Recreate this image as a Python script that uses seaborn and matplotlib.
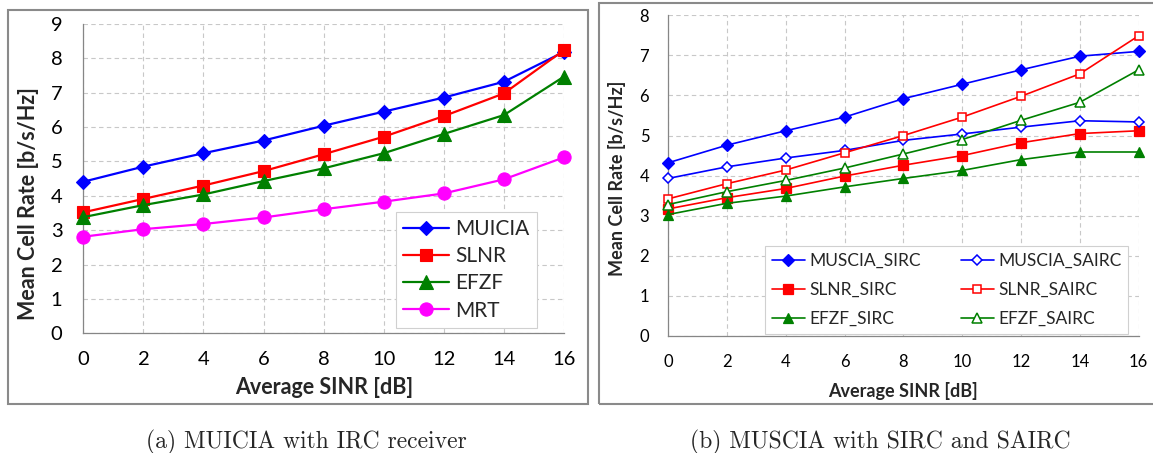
import numpy as np
import pandas as pd
import seaborn as sns
import matplotlib
matplotlib.use("Agg")
import matplotlib.pyplot as plt
from matplotlib.patches import Rectangle

# ---------------- data ----------------
sinr = [0, 2, 4, 6, 8, 10, 12, 14, 16]

# (a) MUICIA with IRC receiver
a_muicia = [4.41, 4.85, 5.24, 5.61, 6.04, 6.45, 6.86, 7.32, 8.19]
a_slnr = [3.52, 3.91, 4.30, 4.72, 5.21, 5.72, 6.32, 6.98, 8.24]
a_efzf = [3.38, 3.73, 4.04, 4.43, 4.80, 5.24, 5.80, 6.35, 7.47]
a_mrt = [2.81, 3.03, 3.18, 3.37, 3.61, 3.83, 4.07, 4.48, 5.12]

# (b) MUSCIA with SIRC and SAIRC
b_muscia_sirc = [4.32, 4.76, 5.12, 5.46, 5.92, 6.28, 6.64, 6.98, 7.10]
b_muscia_sairc = [3.93, 4.22, 4.44, 4.63, 4.88, 5.04, 5.21, 5.37, 5.34]
b_slnr_sirc = [3.17, 3.45, 3.68, 3.99, 4.26, 4.50, 4.82, 5.05, 5.12]
b_slnr_sairc = [3.42, 3.80, 4.14, 4.57, 5.00, 5.46, 5.98, 6.54, 7.49]
b_efzf_sirc = [3.03, 3.31, 3.49, 3.72, 3.93, 4.13, 4.40, 4.59, 4.59]
b_efzf_sairc = [3.28, 3.60, 3.88, 4.19, 4.54, 4.90, 5.38, 5.83, 6.64]

x_ticks = [0, 2, 4, 6, 8, 10, 12, 14, 16]
a_yticks = list(range(0, 10))
b_yticks = list(range(0, 9))

xlabel = "Average SINR [dB]"
ylabel = "Mean Cell Rate [b/s/Hz]"
cap_a = "(a) MUICIA with IRC receiver"
cap_b = "(b) MUSCIA with SIRC and SAIRC"

# ---------------- style ----------------
sns.set_style("white")
plt.rcParams["font.family"] = ["Lato", "DejaVu Sans"]

W, H = 1153, 453
fig = plt.figure(figsize=(W / 100, H / 100), dpi=100)

AX_GRAY = "#868686"
GRID = "#c8c8c8"


def px(x0, y0, x1, y1):
    return [x0 / W, 1 - y1 / H, (x1 - x0) / W, (y1 - y0) / H]


# panel borders
fig.add_artist(Rectangle((8 / W, 1 - 404 / H), 580 / W, 394 / H, transform=fig.transFigure,
                         fill=False, edgecolor="#8a8a8a", lw=1.5))
fig.add_artist(Rectangle((599 / W, 1 - 404 / H), 600 / W, 401 / H, transform=fig.transFigure,
                         fill=False, edgecolor="#8a8a8a", lw=1.5))

axA = fig.add_axes(px(83.3, 24, 564, 333.3))
axB = fig.add_axes(px(668, 15.3, 1138.7, 336))


def style_axes(ax, yticks, fs, ypad, xpad):
    ax.set_xlim(0, 16)
    ax.set_ylim(yticks[0], yticks[-1])
    ax.set_xticks(x_ticks)
    ax.set_yticks(yticks)
    for s in ["top", "right"]:
        ax.spines[s].set_visible(False)
    for s in ["left", "bottom"]:
        ax.spines[s].set_color(AX_GRAY)
        ax.spines[s].set_linewidth(0.9)
    ax.grid(True, color=GRID, linestyle=(0, (4, 3)), linewidth=0.8)
    ax.set_axisbelow(True)
    ax.tick_params(axis="both", direction="out", length=5, width=0.8, color=AX_GRAY,
                   labelsize=fs, labelcolor="black")
    ax.tick_params(axis="y", pad=ypad)
    ax.tick_params(axis="x", pad=xpad)
    ax.set_xlabel("")
    ax.set_ylabel("")


# ---------------- panel (a) ----------------
a_series = [
    ("MUICIA", a_muicia, "#0000ff", "D", 7.6),
    ("SLNR", a_slnr, "#ff0000", "s", 9.0),
    ("EFZF", a_efzf, "#008000", "^", 9.5),
    ("MRT", a_mrt, "#ff00ff", "o", 9.5),
]
for name, vals, col, mk, ms in a_series:
    sns.lineplot(x=sinr, y=vals, ax=axA, color=col, marker=mk, markersize=ms,
                 markeredgecolor=col, markerfacecolor=col, markeredgewidth=0.8,
                 linewidth=1.6, label=name, clip_on=False, zorder=3)
style_axes(axA, a_yticks, 14.5, 10, 8)
legA = axA.legend(loc="lower left", bbox_to_anchor=(0.65, 0.017), fontsize=15,
                  frameon=True, fancybox=False, framealpha=1, edgecolor="#d0d0d0",
                  handlelength=2.2, handletextpad=0.3, borderpad=0.35, labelspacing=0.35,
                  borderaxespad=0)
legA.get_frame().set_linewidth(0.8)

# ---------------- panel (b) ----------------
b_series = [
    ("MUSCIA_SIRC", b_muscia_sirc, "#0000ff", "D", 6.0, True),
    ("SLNR_SIRC", b_slnr_sirc, "#ff0000", "s", 6.5, True),
    ("EFZF_SIRC", b_efzf_sirc, "#008000", "^", 7.5, True),
    ("MUSCIA_SAIRC", b_muscia_sairc, "#0000ff", "D", 4.6, False),
    ("SLNR_SAIRC", b_slnr_sairc, "#ff0000", "s", 6.0, False),
    ("EFZF_SAIRC", b_efzf_sairc, "#008000", "^", 7.0, False),
]
for name, vals, col, mk, ms, filled in b_series:
    sns.lineplot(x=sinr, y=vals, ax=axB, color=col, marker=mk, markersize=ms,
                 markeredgecolor=col, markerfacecolor=col if filled else "white",
                 markeredgewidth=0.9 if filled else 1.1,
                 linewidth=1.2, label=name, clip_on=False, zorder=3)
style_axes(axB, b_yticks, 12, 8.5, 8)
legB = axB.legend(loc="lower left", bbox_to_anchor=(0.206, 0.0072), ncol=2, fontsize=12.5,
                  frameon=True, fancybox=False, framealpha=1, edgecolor="#d0d0d0",
                  handlelength=1.9, handletextpad=0.25, borderpad=0.4, labelspacing=0.75,
                  columnspacing=2.3, borderaxespad=0)
legB.get_frame().set_linewidth(0.8)

# ---------------- axis titles ----------------
fig.text(324 / W, 1 - 387 / H, xlabel, ha="center", va="center", fontsize=15.5, fontweight="bold")
fig.text(29 / W, 1 - 204 / H, ylabel, ha="center", va="center", rotation=90, fontsize=15.5,
         fontweight="bold")
fig.text(903 / W, 1 - 391 / H, xlabel, ha="center", va="center", fontsize=13, fontweight="bold")
fig.text(617 / W, 1 - 178.5 / H, ylabel, ha="center", va="center", rotation=90, fontsize=13,
         fontweight="bold")

# ---------------- captions ----------------
fig.text(306 / W, 5 / H, cap_a, ha="center", va="baseline", fontsize=17, family="cmr10")
fig.text(880 / W, 5 / H, cap_b, ha="center", va="baseline", fontsize=17, family="cmr10")

fig.savefig("out.png", dpi=100, facecolor="white")
